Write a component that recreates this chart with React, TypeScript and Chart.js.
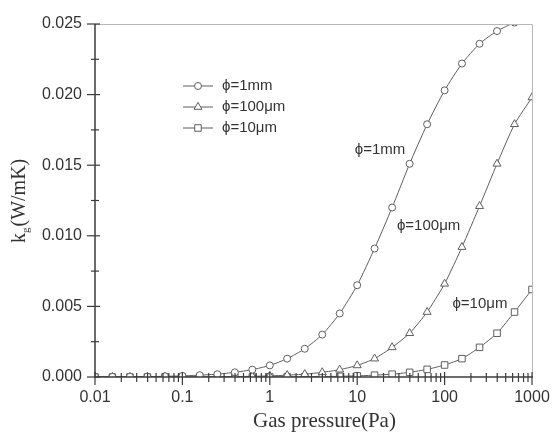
import React, { useEffect, useRef } from "react";
import { Chart, registerables } from "chart.js";

Chart.register(...registerables);

// Gas pressure (Pa) at which each marker is plotted
const pressure = [
  0.01, 0.0158, 0.0251, 0.0398, 0.0631, 0.1, 0.158, 0.251, 0.398, 0.631,
  1, 1.58, 2.51, 3.98, 6.31, 10, 15.8, 25.1, 39.8, 63.1,
  100, 158, 251, 398, 631, 1000,
];

// k_g (W/mK) for pore size 1 mm (circles)
const k1mm = [
  0.00001, 0.00001, 0.00002, 0.00003, 0.00005, 0.00008, 0.00013, 0.0002, 0.00033, 0.00052,
  0.00082, 0.0013, 0.002, 0.003, 0.0045, 0.0065, 0.0091, 0.012, 0.0151, 0.0179,
  0.0203, 0.0222, 0.0236, 0.0245, 0.0251, 0.0255,
];

// k_g (W/mK) for pore size 100 µm (triangles)
const k100um = [
  0, 0, 0, 0, 0.00001, 0.00001, 0.00001, 0.00002, 0.00003, 0.00005,
  0.00008, 0.00013, 0.0002, 0.00033, 0.00052, 0.00082, 0.0013, 0.0021, 0.0031, 0.0046,
  0.0066, 0.0092, 0.0121, 0.0151, 0.0179, 0.0198,
];

// k_g (W/mK) for pore size 10 µm (squares)
const k10um = [
  0, 0, 0, 0, 0, 0, 0, 0, 0, 0,
  0.00001, 0.00001, 0.00002, 0.00003, 0.00005, 0.00008, 0.00013, 0.0002, 0.00033, 0.00054,
  0.00085, 0.0013, 0.0021, 0.0031, 0.0046, 0.0062,
];

const seriesLabels = ["\u03d5=1mm", "\u03d5=100\u03bcm", "\u03d5=10\u03bcm"];
const seriesStyles = ["circle", "triangle", "rect"];

const xTicks = [0.01, 0.1, 1, 10, 100, 1000];
const yTicks = [0, 0.005, 0.01, 0.015, 0.02, 0.025];
const yMinorTicks = [0.0025, 0.0075, 0.0125, 0.0175, 0.0225];

// in-plot curve labels, anchored in data coordinates (left edge of text)
const curveLabels = [
  { text: "\u03d5=1mm", x: 9.4, y: 0.0161 },
  { text: "\u03d5=100\u03bcm", x: 28.5, y: 0.0107 },
  { text: "\u03d5=10\u03bcm", x: 123, y: 0.0052 },
];

const LINE = "#5e5e5e";
const TEXT = "#333333";
const SANS = '"Liberation Sans", Arial, sans-serif';
const SERIF = '"Liberation Serif", "Times New Roman", serif';
const radii = [3.5, 4.6, 4.6];

function drawMarker(ctx: CanvasRenderingContext2D, style: string, x: number, y: number, r: number) {
  ctx.beginPath();
  if (style === "circle") {
    ctx.arc(x, y, r, 0, Math.PI * 2);
  } else if (style === "triangle") {
    const h = r * 1.5;
    const w = r * Math.sqrt(3);
    ctx.moveTo(x, y - r);
    ctx.lineTo(x + w / 2, y - r + h);
    ctx.lineTo(x - w / 2, y - r + h);
    ctx.closePath();
  } else {
    const s = r * Math.SQRT1_2;
    ctx.rect(x - s, y - s, 2 * s, 2 * s);
  }
  ctx.fillStyle = "#ffffff";
  ctx.fill();
  ctx.strokeStyle = LINE;
  ctx.lineWidth = 1;
  ctx.stroke();
}

const framePlugin = {
  id: "frame",
  afterDatasetsDraw(chart: any) {
    const { ctx, chartArea: a, scales } = chart;
    const xs = scales.x;
    const ys = scales.y;
    ctx.save();
    // light top / right frame
    ctx.strokeStyle = "#b8b8b8";
    ctx.lineWidth = 1;
    ctx.beginPath();
    ctx.moveTo(a.left, a.top + 0.5);
    ctx.lineTo(a.right + 0.5, a.top + 0.5);
    ctx.lineTo(a.right + 0.5, a.bottom);
    ctx.stroke();
    // dark left / bottom axes
    ctx.strokeStyle = "#3c3c3c";
    ctx.lineWidth = 1.5;
    ctx.beginPath();
    ctx.moveTo(a.left, a.top);
    ctx.lineTo(a.left, a.bottom);
    ctx.lineTo(a.right + 1, a.bottom);
    ctx.stroke();
    ctx.lineWidth = 1.2;
    const seg = (x1: number, y1: number, x2: number, y2: number) => {
      ctx.beginPath();
      ctx.moveTo(x1, y1);
      ctx.lineTo(x2, y2);
      ctx.stroke();
    };
    yTicks.forEach((v) => {
      const py = ys.getPixelForValue(v);
      seg(a.left - 8, py, a.left + 5, py);
    });
    yMinorTicks.forEach((v) => {
      const py = ys.getPixelForValue(v);
      seg(a.left - 4, py, a.left + 4, py);
    });
    xTicks.forEach((v, i) => {
      const px = xs.getPixelForValue(v);
      seg(px, a.bottom - 5, px, a.bottom + 8);
      if (i < xTicks.length - 1) {
        for (let m = 2; m <= 9; m++) {
          const mx = xs.getPixelForValue(v * m);
          seg(mx, a.bottom - 4, mx, a.bottom + 5);
        }
      }
    });
    ctx.restore();
  },
  afterDraw(chart: any) {
    const { ctx, chartArea: a, scales } = chart;
    const xs = scales.x;
    const ys = scales.y;
    ctx.save();
    ctx.fillStyle = TEXT;
    // x title
    ctx.font = `21px ${SERIF}`;
    ctx.textAlign = "center";
    ctx.textBaseline = "alphabetic";
    ctx.fillText("Gas pressure(Pa)", (a.left + a.right) / 2 + 11, 427);
    // y title with subscript
    ctx.save();
    ctx.translate(25, 243);
    ctx.rotate(-Math.PI / 2);
    ctx.textAlign = "left";
    ctx.font = `20px ${SERIF}`;
    ctx.fillText("k", 0, 0);
    let off = ctx.measureText("k").width;
    ctx.font = `11px ${SERIF}`;
    ctx.fillText("g", off, 4);
    off += ctx.measureText("g").width + 1;
    ctx.font = `20px ${SERIF}`;
    ctx.fillText("(W/mK)", off, 0);
    ctx.restore();
    // curve labels
    ctx.font = `15px ${SANS}`;
    ctx.textAlign = "left";
    ctx.textBaseline = "middle";
    curveLabels.forEach((l) => {
      ctx.fillText(l.text, xs.getPixelForValue(l.x), ys.getPixelForValue(l.y));
    });
    // legend
    const lx = a.left + 88;
    const ly = a.top + 62;
    seriesLabels.forEach((t, i) => {
      const y = ly + i * 21;
      ctx.strokeStyle = LINE;
      ctx.lineWidth = 1;
      ctx.beginPath();
      ctx.moveTo(lx, y);
      ctx.lineTo(lx + 30, y);
      ctx.stroke();
      drawMarker(ctx, seriesStyles[i], lx + 15, y, radii[i]);
      ctx.fillStyle = TEXT;
      ctx.fillText(t, lx + 39, y);
    });
    ctx.restore();
  },
};

export default function App() {
  const ref = useRef<HTMLCanvasElement | null>(null);
  useEffect(() => {
    if (!ref.current) return;
    const seriesData = [k1mm, k100um, k10um];
    const chart = new Chart(ref.current, {
      type: "line",
      data: {
        datasets: seriesData.map((vals, i) => ({
          label: seriesLabels[i],
          data: pressure.map((p, j) => ({ x: p, y: vals[j] })),
          borderColor: LINE,
          borderWidth: 1,
          pointStyle: seriesStyles[i] as any,
          pointRadius: radii[i],
          pointBorderColor: LINE,
          pointBorderWidth: 1,
          pointBackgroundColor: "#ffffff",
          tension: 0.2,
          fill: false,
        })),
      },
      options: {
        animation: false,
        responsive: false,
        devicePixelRatio: 1,
        layout: { padding: { left: 0, right: 20, top: 24, bottom: 0 } },
        plugins: {
          legend: { display: false },
          tooltip: { enabled: false },
        },
        scales: {
          x: {
            type: "logarithmic",
            min: 0.01,
            max: 1000,
            grid: { display: false, drawTicks: false },
            border: { display: false },
            afterBuildTicks: (s: any) => {
              s.ticks = xTicks.map((v) => ({ value: v }));
            },
            afterFit: (s: any) => {
              s.height = 55;
              s.paddingLeft = 0;
              s.paddingRight = 0;
              s.paddingTop = 0;
              s.paddingBottom = 0;
            },
            ticks: {
              autoSkip: false,
              maxRotation: 0,
              padding: 11,
              color: TEXT,
              font: { family: SANS, size: 16 },
              callback: (v: any) => String(v),
            },
          },
          y: {
            type: "linear",
            min: 0,
            max: 0.025,
            grid: { display: false, drawTicks: false },
            border: { display: false },
            afterBuildTicks: (s: any) => {
              s.ticks = yTicks.map((v) => ({ value: v }));
            },
            afterFit: (s: any) => {
              s.width = 95;
              s.paddingLeft = 0;
              s.paddingRight = 0;
              s.paddingTop = 0;
              s.paddingBottom = 0;
            },
            ticks: {
              padding: 13,
              color: TEXT,
              font: { family: SANS, size: 16 },
              callback: (v: any) => Number(v).toFixed(3),
            },
          },
        },
      },
      plugins: [framePlugin],
    });
    return () => chart.destroy();
  }, []);
  return (
    <div style={{ position: "fixed", left: 0, top: 0, width: 552, height: 432, background: "#fff" }}>
      <canvas ref={ref} width={552} height={432} style={{ width: 552, height: 432, display: "block" }} />
    </div>
  );
}
